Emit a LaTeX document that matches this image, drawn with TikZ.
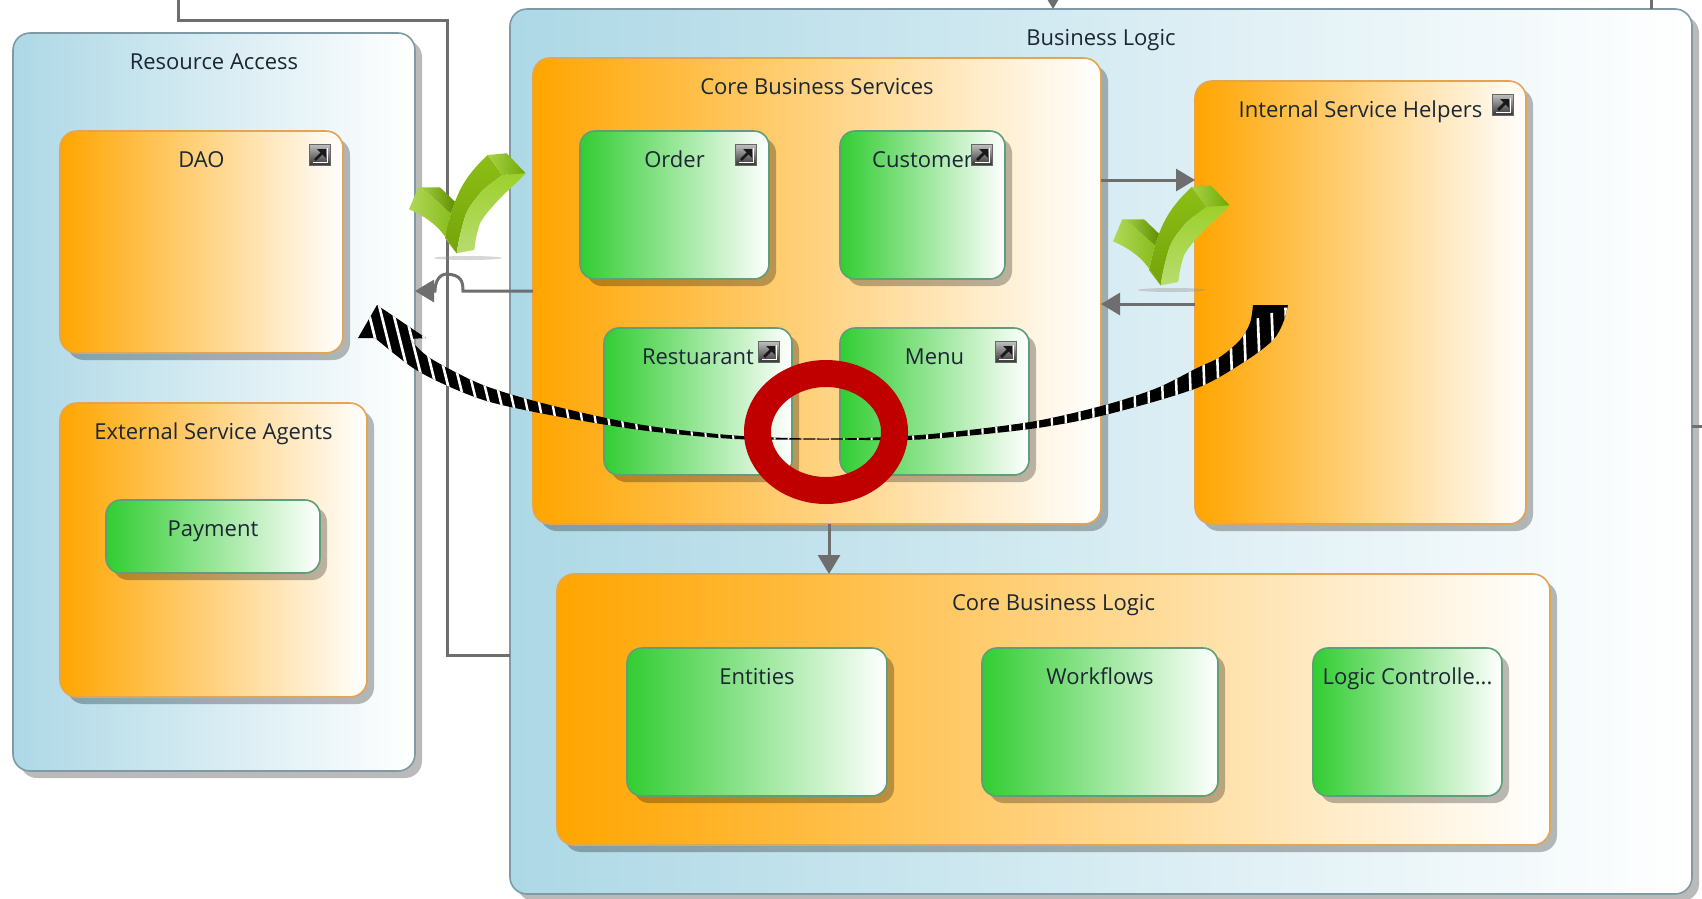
\documentclass[tikz,border=0pt]{standalone}
\usepackage{fontspec}
\setmainfont{Open Sans}
\usetikzlibrary{arrows.meta,shadows,calc}
\definecolor{conn}{HTML}{6E6E6E}
\definecolor{ink}{HTML}{1C2733}
\definecolor{ringred}{HTML}{C00000}
\definecolor{blueB}{HTML}{7F9AA5}
\definecolor{blueL}{HTML}{ADD8E6}
\definecolor{orangeL}{HTML}{FFA500}
\definecolor{orangeB}{HTML}{E3A550}
\definecolor{greenL}{HTML}{32CD32}
\definecolor{greenB}{HTML}{5E9E78}
\definecolor{chkA}{HTML}{8CBE16}
\definecolor{chkB}{HTML}{74A40A}
\definecolor{chkC}{HTML}{9CD02C}
\definecolor{chkD}{HTML}{B8DC70}
\definecolor{chkE}{HTML}{A8D248}
\definecolor{chkF}{HTML}{6EA800}
\definecolor{chkG}{HTML}{5F9000}
\definecolor{chkH}{HTML}{B0D858}
\definecolor{chkI}{HTML}{84B814}
\tikzset{
  base/.style={anchor=north west,inner sep=0pt,outer sep=0pt,rounded corners=17pt,line width=1.6pt,
    general shadow={shadow xshift=7pt,shadow yshift=-7pt,fill=black,opacity=.27}},
  bluebox/.style={base,draw=blueB,left color=blueL,right color=white},
  orangebox/.style={base,draw=orangeB,left color=orangeL,right color=white},
  greenbox/.style={base,draw=greenB,left color=greenL,right color=white,rounded corners=15pt},
  titletext/.style={anchor=base,inner sep=0pt,text=ink,font=\fontsize{22}{26}\selectfont},
  link/.style={draw=conn,line width=3pt,-{Triangle[length=19pt,width=22pt,fill=conn]}},
  plain/.style={draw=conn,line width=3pt},
}
% name, x1,y1,x2,y2, style, text
\newcommand\bx[7]{%
  \node[#6,minimum width={(#4-#2)*1pt},minimum height={(#5-#3)*1pt}] (#1) at (#2,#3) {};
  \node[titletext] (#1t) at ($(#1.north)+(0,36)$) {#7};}
\newcommand\ico[1]{%
  \node[anchor=center,inner sep=0pt,minimum size=21pt,top color=black!25,bottom color=black!80,draw=black!60,line width=1pt] (#1i) at ($(#1.north east)+(-23,24)$) {};
  \draw[line width=2.8pt,black!90] ($(#1i.center)+(-5,5)$) -- ($(#1i.center)+(3,-3)$);
  \fill[black!90] ($(#1i.center)+(6,-6)$) -- ($(#1i.center)+(-3,-6)$) -- ($(#1i.center)+(6,3)$) -- cycle;
  \draw[white,line width=1pt] ($(#1i.center)+(7,-7)$) -- ($(#1i.center)+(7,7)$) -- ($(#1i.center)+(-7,7)$);}
\newcommand\chk[1]{%
  \begin{scope}[shift={#1}]
  \fill[black!45,opacity=.35] (468,258) ellipse [x radius=34,y radius=2];
  \shade[top color=chkA,bottom color=chkB] (487.7,155) -- (502.3,175) .. controls (492,183) and (485,187) .. (480,193.3) .. controls (472,203) and (468,208) .. (465,216.7) .. controls (461,230) and (458,243) .. (456.7,253.3) -- (445,238) -- (450.7,213.3) -- (455,201.7) .. controls (463,180) and (475,167) .. cycle;
  \shade[top color=chkC,bottom color=chkD] (502.3,175) -- (525.7,173.3) .. controls (515,185) and (508,190) .. (500,198.3) .. controls (490,209) and (484,216) .. (480,223.3) .. controls (477,232) and (475,242) .. (474.3,250) -- (456.7,253.3) .. controls (458,243) and (461,230) .. (465,216.7) .. controls (468,208) and (472,203) .. (480,193.3) .. controls (485,187) and (492,183) .. cycle;
  \shade[left color=chkE,right color=chkF] (487.7,155) -- (506.7,153.3) -- (525.7,173.3) -- (502.3,175) -- cycle;
  \shade[left color=chkE,right color=chkG] (418.3,187.3) -- (440,187.3) -- (455,201.7) -- (450.7,213.3) .. controls (440,205) and (430,193) .. cycle;
  \shade[left color=chkH,right color=chkI] (409,209.3) -- (418.3,187.3) .. controls (430,193) and (440,205) .. (450.7,213.3) -- (445,238) -- (456.7,253.3) .. controls (450,243) and (443,233) .. (436.7,226.7) .. controls (428,219) and (420,214) .. cycle;
  \end{scope}}
\begin{document}
\begin{tikzpicture}[x=1pt,y=-1pt]
\useasboundingbox (0,0) rectangle (1702,898);
\clip (0,0) rectangle (1702,898);
\fill[white] (0,0) rectangle (1702,898);
\bx{res}{13}{33}{415}{771}{bluebox}{Resource Access}
\bx{biz}{510}{9}{1692}{894}{bluebox}{Business Logic}
\bx{dao}{60}{131}{343}{353}{orangebox}{DAO}
\bx{ext}{60}{403}{367}{697}{orangebox}{External Service Agents}
\bx{pay}{106}{500}{320}{573}{greenbox}{Payment}
\bx{cbs}{533}{58}{1101}{524}{orangebox}{Core Business Services}
\bx{ish}{1195}{81}{1526}{524}{orangebox}{Internal Service Helpers}
\bx{cbl}{557}{574}{1550}{845}{orangebox}{Core Business Logic}
\bx{ord}{580}{131}{769}{279}{greenbox}{Order}
\bx{cus}{840}{131}{1005}{279}{greenbox}{Customer}
\bx{rst}{604}{328}{792}{475}{greenbox}{Restuarant}
\bx{men}{840}{328}{1029}{475}{greenbox}{Menu}
\bx{ent}{627}{648}{887}{796}{greenbox}{Entities}
\bx{wfl}{982}{648}{1218}{796}{greenbox}{Workflows}
\bx{lgc}{1313}{648}{1502}{796}{greenbox}{Logic Controlle...}
\ico{dao}\ico{ord}\ico{cus}\ico{rst}\ico{men}\ico{ish}
% connectors
\coordinate (topA) at (178,-5);
\coordinate (topB) at (1053,-12);
\coordinate (topC) at (1651,-5);
\coordinate (rgt) at (1710,426);
\coordinate (y1) at (0,655);
\coordinate (y2) at (0,180);
\coordinate (y3) at (0,304);
\coordinate (y4) at (0,291);
\coordinate (x1) at (829,0);
\draw[plain] (topA) -- (178,20) -- (447,20) -- (447,655) -- (biz.west |- y1);
\draw[link] (topB) -- (topB |- biz.north);
\draw[plain] (topC) -- (topC |- biz.north);
\draw[plain] (rgt) -- (rgt -| biz.east);
\draw[link] (cbs.east |- y2) -- (ish.west |- y2);
\draw[link] (ish.west |- y3) -- (cbs.east |- y3);
\draw[link] (x1 |- cbs.south) -- (x1 |- cbl.north);
\draw[link] (cbs.west |- y4) -- (463,291) .. controls (463,281) and (461,275) .. (447,274) .. controls (439,274) and (435,282) .. (435,291) -- (res.east |- y4);
% striped arrow
\def\arcpath{(358,338) -- (377,305) -- (426,338) -- (410,339) -- plot[smooth] coordinates {(410,339) (430,358) (483,385) (550,405) (640,424.5) (735,435.5) (826,438.5) (920,435) (1030,422) (1105,405) (1157,388) (1197,368) (1220,357) (1240,340) (1250,323) (1253,305)} -- (1288,305) -- plot[smooth] coordinates {(1288,305) (1283,323) (1273,340) (1247,360) (1197,388) (1105,415) (1030,429) (920,439.5) (826,439.5) (735,439) (640,430) (550,415) (490,402) (450,387) (413,368) (375,338)} -- cycle}
\fill[black] \arcpath;
\begin{scope}
\clip \arcpath;
\foreach \k in {0,...,66}{
  \pgfmathsetmacro\xx{373+13.85*\k}
  \pgfmathsetmacro\yc{\xx<500 ? 330+(\xx-373)*.47 : 439-((\xx-826)*.02074)^2}
  \pgfmathsetmacro\tl{\xx<826 ? min(.25,.25*(826-\xx)/350) : 0.04}
  \pgfmathsetmacro\wd{1.8+abs(\xx-826)*.002}
  \draw[white,line width=\wd pt] (\xx-\tl*40,\yc-40) -- (\xx+\tl*40,\yc+40);
}
\end{scope}
% ring
\draw[ringred,line width=27pt] (826,432) ellipse [x radius=68.5,y radius=58.5];
% check marks
\chk{(0,0)}
\chk{(704,32)}
\end{tikzpicture}
\end{document}
